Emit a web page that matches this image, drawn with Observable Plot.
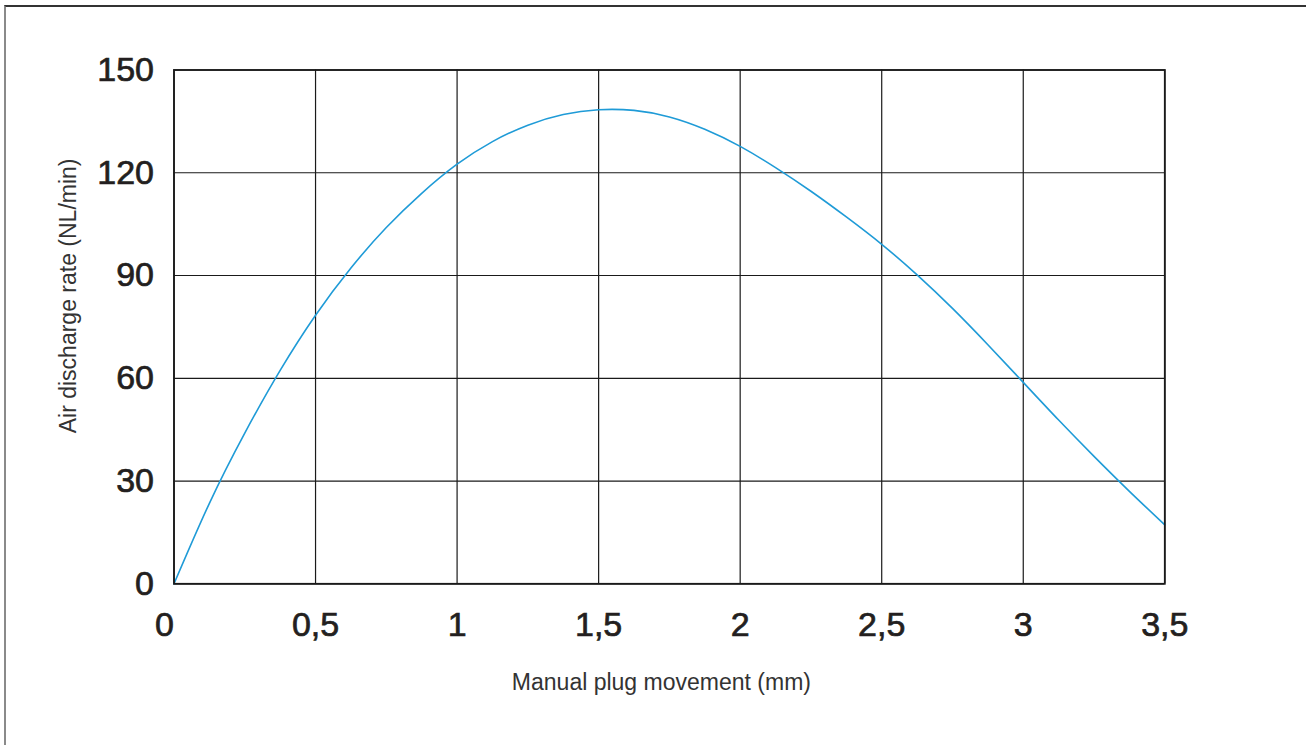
<!DOCTYPE html>
<html>
<head>
<meta charset="utf-8">
<script src="https://cdn.jsdelivr.net/npm/d3@7"></script>
<script src="https://cdn.jsdelivr.net/npm/@observablehq/plot@0.6"></script>
<style>
  html, body { margin: 0; padding: 0; background: #fff; overflow: hidden; }
  #wrap { position: relative; width: 1306px; height: 745px; }
  #border { position: absolute; left: 4px; top: 5px; right: -10px; bottom: -10px;
            border-left: 2px solid #8a8a8a; border-top: 2px solid #333; pointer-events: none; }
  #chart svg { display: block; }
  g[aria-label="x-axis tick label"] text, g[aria-label="y-axis tick label"] text, .zero text {
    stroke: #231f20; stroke-width: 0.7px;
  }
</style>
</head>
<body>
<div id="wrap">
  <div id="chart"></div>
  <div id="border"></div>
</div>
<script>
// Data
const movement = [0, 0.125, 0.25, 0.375, 0.5, 0.625, 0.75, 0.875, 1, 1.125, 1.25, 1.375, 1.5, 1.625,
                  1.75, 1.875, 2, 2.125, 2.25, 2.375, 2.5, 2.625, 2.75, 2.875, 3, 3.125, 3.25, 3.375, 3.5];
const discharge = [0, 23.5, 44, 62.3, 78.4, 92.2, 104, 114, 122.5, 129.1, 133.9, 137, 138.4, 138.2,
                   136.3, 132.7, 127.7, 121.5, 114.6, 107.1, 99.1, 90.2, 80.4, 69.8, 58.8, 47.8, 37.2, 27.0, 17.2];
const xTicks = [0, 0.5, 1, 1.5, 2, 2.5, 3, 3.5];
const yTicks = [0, 30, 60, 90, 120, 150];
const xTitle = "Manual plug movement (mm)";
const yTitle = "Air discharge rate (NL/min)";

const fmt = d => String(d).replace(".", ",");
const ink = "#231f20";
const font = "'Liberation Sans', Arial, Helvetica, sans-serif";

const chart = Plot.plot({
  width: 1306,
  height: 745,
  marginLeft: 173.5,
  marginRight: 141.7,
  marginTop: 69.5,
  marginBottom: 161.7,
  style: { fontFamily: font, color: ink, background: "transparent" },
  x: { domain: [0, 3.5] },
  y: { domain: [0, 150] },
  marks: [
    Plot.gridX(xTicks, { stroke: "#1a1a1a", strokeOpacity: 1, strokeWidth: 1.2 }),
    Plot.gridY(yTicks, { stroke: "#1a1a1a", strokeOpacity: 1, strokeWidth: 1.2 }),
    Plot.line(movement, { x: movement, y: discharge, curve: "natural", stroke: "#1f9bd7", strokeWidth: 1.6 }),
    Plot.frame({ stroke: "#1a1a1a", strokeWidth: 1.8 }),
    Plot.axisY(yTicks, { tickSize: 0, tickPadding: 20, fontSize: 34, fill: ink, label: null, tickFormat: d => d }),
    Plot.axisX(xTicks.filter(d => d > 0), { tickSize: 0, tickPadding: 28.5, fontSize: 34, fill: ink, label: null, tickFormat: fmt }),
    Plot.text([0], { x: d => d, frameAnchor: "bottom", dy: 28.5, dx: -9.5, lineAnchor: "top",
                     fontSize: 34, fill: ink, text: d => fmt(d), className: "zero" }),
    Plot.text([xTitle], { frameAnchor: "bottom", dy: 98.4, dx: -8, lineAnchor: "middle", textAnchor: "middle",
                          fontSize: 23, fill: "#333", text: d => d }),
    Plot.text([yTitle], { frameAnchor: "left", dx: -105.5, dy: -31, rotate: -90, lineAnchor: "middle", textAnchor: "middle",
                          fontSize: 23, fill: "#333", text: d => d })
  ]
});
document.getElementById("chart").appendChild(chart);
</script>
</body>
</html>
